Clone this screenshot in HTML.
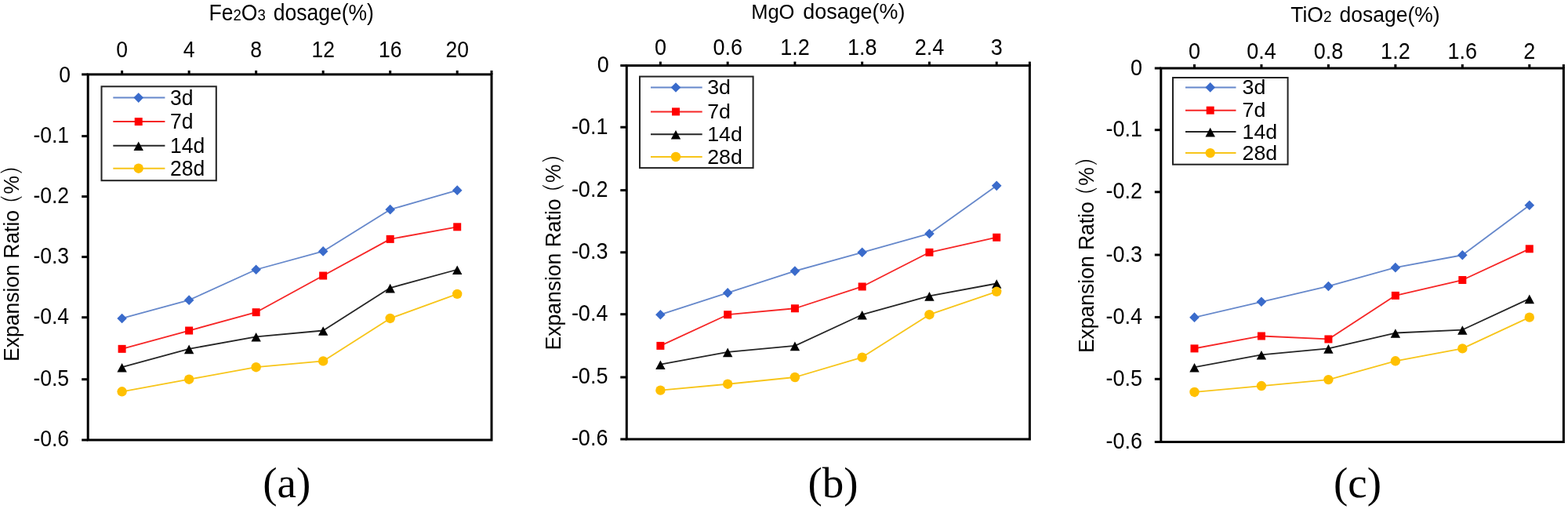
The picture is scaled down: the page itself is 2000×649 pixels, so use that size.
<!DOCTYPE html>
<html><head><meta charset="utf-8"><title>Expansion Ratio vs dosage</title>
<style>
html,body{margin:0;padding:0;background:#fff;}
body{width:2000px;height:649px;overflow:hidden;}
svg{display:block;}
svg text{font-family:'Liberation Sans', Arial, sans-serif;fill:#000;}
</style></head>
<body>
<svg width="2000" height="649" viewBox="0 0 2000 649">
<rect width="2000" height="649" fill="#fff"/>
<rect x="112.2" y="94.9" width="514.8" height="466.1" fill="none" stroke="#000" stroke-width="3"/>
<line x1="104.2" y1="94.9" x2="112.2" y2="94.9" stroke="#000" stroke-width="3"/>
<text transform="translate(90.1 104.9) scale(1 1.1)" font-size="26.5" text-anchor="end">0</text>
<line x1="104.2" y1="173.6" x2="112.2" y2="173.6" stroke="#000" stroke-width="3"/>
<text transform="translate(88.1 181.9) scale(1 1.1)" font-size="26.5" text-anchor="end">-0.1</text>
<line x1="104.2" y1="250.6" x2="112.2" y2="250.6" stroke="#000" stroke-width="3"/>
<text transform="translate(88.1 258.9) scale(1 1.1)" font-size="26.5" text-anchor="end">-0.2</text>
<line x1="104.2" y1="327.6" x2="112.2" y2="327.6" stroke="#000" stroke-width="3"/>
<text transform="translate(88.1 335.9) scale(1 1.1)" font-size="26.5" text-anchor="end">-0.3</text>
<line x1="104.2" y1="404.7" x2="112.2" y2="404.7" stroke="#000" stroke-width="3"/>
<text transform="translate(88.1 413) scale(1 1.1)" font-size="26.5" text-anchor="end">-0.4</text>
<line x1="104.2" y1="483.7" x2="112.2" y2="483.7" stroke="#000" stroke-width="3"/>
<text transform="translate(88.1 492) scale(1 1.1)" font-size="26.5" text-anchor="end">-0.5</text>
<line x1="104.2" y1="561" x2="112.2" y2="561" stroke="#000" stroke-width="3"/>
<text transform="translate(88.1 569.3) scale(1 1.1)" font-size="26.5" text-anchor="end">-0.6</text>
<line x1="627" y1="89.9" x2="627" y2="94.9" stroke="#000" stroke-width="3"/>
<line x1="155.6" y1="89.9" x2="155.6" y2="94.9" stroke="#000" stroke-width="3"/>
<text transform="translate(155.6 72.8) scale(1 1.1)" font-size="26.5" text-anchor="middle">0</text>
<line x1="241.12" y1="89.9" x2="241.12" y2="94.9" stroke="#000" stroke-width="3"/>
<text transform="translate(241.12 72.8) scale(1 1.1)" font-size="26.5" text-anchor="middle">4</text>
<line x1="326.64" y1="89.9" x2="326.64" y2="94.9" stroke="#000" stroke-width="3"/>
<text transform="translate(326.64 72.8) scale(1 1.1)" font-size="26.5" text-anchor="middle">8</text>
<line x1="412.16" y1="89.9" x2="412.16" y2="94.9" stroke="#000" stroke-width="3"/>
<text transform="translate(412.16 72.8) scale(1 1.1)" font-size="26.5" text-anchor="middle">12</text>
<line x1="497.68" y1="89.9" x2="497.68" y2="94.9" stroke="#000" stroke-width="3"/>
<text transform="translate(497.68 72.8) scale(1 1.1)" font-size="26.5" text-anchor="middle">16</text>
<line x1="583.2" y1="89.9" x2="583.2" y2="94.9" stroke="#000" stroke-width="3"/>
<text transform="translate(583.2 72.8) scale(1 1.1)" font-size="26.5" text-anchor="middle">20</text>
<text transform="translate(266.6 25.7) scale(1 1.08)" font-size="26.5"><tspan>Fe</tspan><tspan font-size="18.55">2</tspan><tspan>O</tspan><tspan font-size="18.55">3</tspan><tspan dx="10">dosage(%)</tspan></text>
<text transform="translate(23.5 460.9) rotate(-90) scale(1 1.07)" font-size="26.5">Expansion Ratio<tspan dx="-5.5" style="font-family:&quot;Liberation Sans&quot;, NanumGothic, sans-serif">（</tspan><tspan dx="1.1">%</tspan><tspan dx="1.3" style="font-family:&quot;Liberation Sans&quot;, NanumGothic, sans-serif">）</tspan></text>
<polyline points="155.6,405.97 241.12,382.64 326.64,343.75 412.16,320.42 497.68,267.15 583.2,242.66" fill="none" stroke="#6688CB" stroke-width="1.8" stroke-linejoin="round"/>
<path d="M155.6 399.67L161.9 405.97L155.6 412.27L149.3 405.97Z" fill="#3A6BCB"/>
<path d="M241.12 376.34L247.42 382.64L241.12 388.94L234.82 382.64Z" fill="#3A6BCB"/>
<path d="M326.64 337.45L332.94 343.75L326.64 350.05L320.34 343.75Z" fill="#3A6BCB"/>
<path d="M412.16 314.12L418.46 320.42L412.16 326.72L405.86 320.42Z" fill="#3A6BCB"/>
<path d="M497.68 260.85L503.98 267.15L497.68 273.45L491.38 267.15Z" fill="#3A6BCB"/>
<path d="M583.2 236.36L589.5 242.66L583.2 248.96L576.9 242.66Z" fill="#3A6BCB"/>
<polyline points="155.6,444.85 241.12,421.52 326.64,398.19 412.16,351.53 497.68,304.87 583.2,289.32" fill="none" stroke="#F62626" stroke-width="1.8" stroke-linejoin="round"/>
<rect x="150.6" y="439.85" width="10" height="10" fill="#FF0000"/>
<rect x="236.12" y="416.52" width="10" height="10" fill="#FF0000"/>
<rect x="321.64" y="393.19" width="10" height="10" fill="#FF0000"/>
<rect x="407.16" y="346.53" width="10" height="10" fill="#FF0000"/>
<rect x="492.68" y="299.87" width="10" height="10" fill="#FF0000"/>
<rect x="578.2" y="284.32" width="10" height="10" fill="#FF0000"/>
<polyline points="155.6,468.18 241.12,444.85 326.64,429.3 412.16,421.52 497.68,367.08 583.2,343.75" fill="none" stroke="#262626" stroke-width="1.8" stroke-linejoin="round"/>
<path d="M155.6 462.88L161.8 474.48L149.4 474.48Z" fill="#000000"/>
<path d="M241.12 439.55L247.32 451.15L234.92 451.15Z" fill="#000000"/>
<path d="M326.64 424L332.84 435.6L320.44 435.6Z" fill="#000000"/>
<path d="M412.16 416.22L418.36 427.82L405.96 427.82Z" fill="#000000"/>
<path d="M497.68 361.78L503.88 373.38L491.48 373.38Z" fill="#000000"/>
<path d="M583.2 338.45L589.4 350.05L577 350.05Z" fill="#000000"/>
<polyline points="155.6,499.29 241.12,483.73 326.64,468.18 412.16,460.4 497.68,405.97 583.2,374.86" fill="none" stroke="#F7C51A" stroke-width="1.8" stroke-linejoin="round"/>
<circle cx="155.6" cy="499.29" r="6.2" fill="#FFC000"/>
<circle cx="241.12" cy="483.73" r="6.2" fill="#FFC000"/>
<circle cx="326.64" cy="468.18" r="6.2" fill="#FFC000"/>
<circle cx="412.16" cy="460.4" r="6.2" fill="#FFC000"/>
<circle cx="497.68" cy="405.97" r="6.2" fill="#FFC000"/>
<circle cx="583.2" cy="374.86" r="6.2" fill="#FFC000"/>
<rect x="129.5" y="110.3" width="146.3" height="119.9" fill="#fff" stroke="#222" stroke-width="2"/>
<line x1="144.3" y1="124.6" x2="210.4" y2="124.6" stroke="#6688CB" stroke-width="2"/>
<path d="M176.7 118.3L183 124.6L176.7 130.9L170.4 124.6Z" fill="#3A6BCB"/>
<text transform="translate(217 133.5) scale(1 1.05)" font-size="26.5">3d</text>
<line x1="144.3" y1="155.1" x2="210.4" y2="155.1" stroke="#F62626" stroke-width="2"/>
<rect x="171.7" y="150.1" width="10" height="10" fill="#FF0000"/>
<text transform="translate(217 164) scale(1 1.05)" font-size="26.5">7d</text>
<line x1="144.3" y1="185.8" x2="210.4" y2="185.8" stroke="#262626" stroke-width="2"/>
<path d="M176.7 180.5L182.9 192.1L170.5 192.1Z" fill="#000000"/>
<text transform="translate(217 194.7) scale(1 1.05)" font-size="26.5">14d</text>
<line x1="144.3" y1="214.7" x2="210.4" y2="214.7" stroke="#F7C51A" stroke-width="2"/>
<circle cx="176.7" cy="214.7" r="6.2" fill="#FFC000"/>
<text transform="translate(217 223.6) scale(1 1.05)" font-size="26.5">28d</text>
<text x="365.7" y="633.7" font-size="55" style="font-family:&quot;Liberation Serif&quot;, &quot;Times New Roman&quot;, serif" text-anchor="middle">(a)</text>
<rect x="799.3" y="83.6" width="514.1" height="476.4" fill="none" stroke="#000" stroke-width="3"/>
<line x1="791.3" y1="83.6" x2="799.3" y2="83.6" stroke="#000" stroke-width="3"/>
<text transform="translate(776.8 91.9) scale(1 1.1)" font-size="27" text-anchor="end">0</text>
<line x1="791.3" y1="162.2" x2="799.3" y2="162.2" stroke="#000" stroke-width="3"/>
<text transform="translate(775.4 170.5) scale(1 1.1)" font-size="27" text-anchor="end">-0.1</text>
<line x1="791.3" y1="242.6" x2="799.3" y2="242.6" stroke="#000" stroke-width="3"/>
<text transform="translate(775.4 250.9) scale(1 1.1)" font-size="27" text-anchor="end">-0.2</text>
<line x1="791.3" y1="321.8" x2="799.3" y2="321.8" stroke="#000" stroke-width="3"/>
<text transform="translate(775.4 330.1) scale(1 1.1)" font-size="27" text-anchor="end">-0.3</text>
<line x1="791.3" y1="400.7" x2="799.3" y2="400.7" stroke="#000" stroke-width="3"/>
<text transform="translate(775.4 409) scale(1 1.1)" font-size="27" text-anchor="end">-0.4</text>
<line x1="791.3" y1="481" x2="799.3" y2="481" stroke="#000" stroke-width="3"/>
<text transform="translate(775.4 489.3) scale(1 1.1)" font-size="27" text-anchor="end">-0.5</text>
<line x1="791.3" y1="560" x2="799.3" y2="560" stroke="#000" stroke-width="3"/>
<text transform="translate(775.4 568.3) scale(1 1.1)" font-size="27" text-anchor="end">-0.6</text>
<line x1="1313.4" y1="78.6" x2="1313.4" y2="83.6" stroke="#000" stroke-width="3"/>
<line x1="842.4" y1="78.6" x2="842.4" y2="83.6" stroke="#000" stroke-width="3"/>
<text transform="translate(842.4 69.8) scale(1 1.1)" font-size="27" text-anchor="middle">0</text>
<line x1="928.16" y1="78.6" x2="928.16" y2="83.6" stroke="#000" stroke-width="3"/>
<text transform="translate(928.16 69.8) scale(1 1.1)" font-size="27" text-anchor="middle">0.6</text>
<line x1="1013.92" y1="78.6" x2="1013.92" y2="83.6" stroke="#000" stroke-width="3"/>
<text transform="translate(1013.92 69.8) scale(1 1.1)" font-size="27" text-anchor="middle">1.2</text>
<line x1="1099.68" y1="78.6" x2="1099.68" y2="83.6" stroke="#000" stroke-width="3"/>
<text transform="translate(1099.68 69.8) scale(1 1.1)" font-size="27" text-anchor="middle">1.8</text>
<line x1="1185.44" y1="78.6" x2="1185.44" y2="83.6" stroke="#000" stroke-width="3"/>
<text transform="translate(1185.44 69.8) scale(1 1.1)" font-size="27" text-anchor="middle">2.4</text>
<line x1="1271.2" y1="78.6" x2="1271.2" y2="83.6" stroke="#000" stroke-width="3"/>
<text transform="translate(1271.2 69.8) scale(1 1.1)" font-size="27" text-anchor="middle">3</text>
<text transform="translate(958.2 23.65) scale(1 1.024)" font-size="25.5"><tspan>MgO</tspan><tspan font-size="26.9" dx="10.9">dosage(%)</tspan></text>
<text transform="translate(714.9 446.4) rotate(-90) scale(1 1.07)" font-size="26.5">Expansion Ratio<tspan dx="-5.5" style="font-family:&quot;Liberation Sans&quot;, NanumGothic, sans-serif">（</tspan><tspan dx="1.1">%</tspan><tspan dx="1.3" style="font-family:&quot;Liberation Sans&quot;, NanumGothic, sans-serif">）</tspan></text>
<polyline points="842.4,401.2 928.16,373.41 1013.92,345.62 1099.68,321.8 1185.44,297.98 1271.2,236.84" fill="none" stroke="#6688CB" stroke-width="1.8" stroke-linejoin="round"/>
<path d="M842.4 394.9L848.7 401.2L842.4 407.5L836.1 401.2Z" fill="#3A6BCB"/>
<path d="M928.16 367.11L934.46 373.41L928.16 379.71L921.86 373.41Z" fill="#3A6BCB"/>
<path d="M1013.92 339.32L1020.22 345.62L1013.92 351.92L1007.62 345.62Z" fill="#3A6BCB"/>
<path d="M1099.68 315.5L1105.98 321.8L1099.68 328.1L1093.38 321.8Z" fill="#3A6BCB"/>
<path d="M1185.44 291.68L1191.74 297.98L1185.44 304.28L1179.14 297.98Z" fill="#3A6BCB"/>
<path d="M1271.2 230.54L1277.5 236.84L1271.2 243.14L1264.9 236.84Z" fill="#3A6BCB"/>
<polyline points="842.4,440.9 928.16,401.2 1013.92,393.26 1099.68,365.47 1185.44,321.8 1271.2,302.74" fill="none" stroke="#F62626" stroke-width="1.8" stroke-linejoin="round"/>
<rect x="837.4" y="435.9" width="10" height="10" fill="#FF0000"/>
<rect x="923.16" y="396.2" width="10" height="10" fill="#FF0000"/>
<rect x="1008.92" y="388.26" width="10" height="10" fill="#FF0000"/>
<rect x="1094.68" y="360.47" width="10" height="10" fill="#FF0000"/>
<rect x="1180.44" y="316.8" width="10" height="10" fill="#FF0000"/>
<rect x="1266.2" y="297.74" width="10" height="10" fill="#FF0000"/>
<polyline points="842.4,464.72 928.16,448.84 1013.92,440.9 1099.68,401.2 1185.44,377.38 1271.2,361.5" fill="none" stroke="#262626" stroke-width="1.8" stroke-linejoin="round"/>
<path d="M842.4 459.42L848.6 471.02L836.2 471.02Z" fill="#000000"/>
<path d="M928.16 443.54L934.36 455.14L921.96 455.14Z" fill="#000000"/>
<path d="M1013.92 435.6L1020.12 447.2L1007.72 447.2Z" fill="#000000"/>
<path d="M1099.68 395.9L1105.88 407.5L1093.48 407.5Z" fill="#000000"/>
<path d="M1185.44 372.08L1191.64 383.68L1179.24 383.68Z" fill="#000000"/>
<path d="M1271.2 356.2L1277.4 367.8L1265 367.8Z" fill="#000000"/>
<polyline points="842.4,497.67 928.16,489.73 1013.92,481 1099.68,455.59 1185.44,401.2 1271.2,371.82" fill="none" stroke="#F7C51A" stroke-width="1.8" stroke-linejoin="round"/>
<circle cx="842.4" cy="497.67" r="6.2" fill="#FFC000"/>
<circle cx="928.16" cy="489.73" r="6.2" fill="#FFC000"/>
<circle cx="1013.92" cy="481" r="6.2" fill="#FFC000"/>
<circle cx="1099.68" cy="455.59" r="6.2" fill="#FFC000"/>
<circle cx="1185.44" cy="401.2" r="6.2" fill="#FFC000"/>
<circle cx="1271.2" cy="371.82" r="6.2" fill="#FFC000"/>
<rect x="816" y="97.6" width="144.6" height="116.5" fill="#fff" stroke="#222" stroke-width="2"/>
<line x1="830" y1="111.5" x2="895.7" y2="111.5" stroke="#6688CB" stroke-width="2"/>
<path d="M862 105.2L868.3 111.5L862 117.8L855.7 111.5Z" fill="#3A6BCB"/>
<text transform="translate(902.2 120.1) scale(1.05 1)" font-size="25.5">3d</text>
<line x1="830" y1="142.4" x2="895.7" y2="142.4" stroke="#F62626" stroke-width="2"/>
<rect x="857" y="137.4" width="10" height="10" fill="#FF0000"/>
<text transform="translate(902.2 151) scale(1.05 1)" font-size="25.5">7d</text>
<line x1="830" y1="171.2" x2="895.7" y2="171.2" stroke="#262626" stroke-width="2"/>
<path d="M862 165.9L868.2 177.5L855.8 177.5Z" fill="#000000"/>
<text transform="translate(902.2 179.8) scale(1.05 1)" font-size="25.5">14d</text>
<line x1="830" y1="200" x2="895.7" y2="200" stroke="#F7C51A" stroke-width="2"/>
<circle cx="862" cy="200" r="6.2" fill="#FFC000"/>
<text transform="translate(902.2 208.6) scale(1.05 1)" font-size="25.5">28d</text>
<text x="1062.6" y="633.7" font-size="55" style="font-family:&quot;Liberation Serif&quot;, &quot;Times New Roman&quot;, serif" text-anchor="middle">(b)</text>
<rect x="1480.8" y="87" width="513.6" height="476.5" fill="none" stroke="#000" stroke-width="3"/>
<line x1="1472.8" y1="87" x2="1480.8" y2="87" stroke="#000" stroke-width="3"/>
<text transform="translate(1457 95.5) scale(1 1.1)" font-size="27" text-anchor="end">0</text>
<line x1="1472.8" y1="165.7" x2="1480.8" y2="165.7" stroke="#000" stroke-width="3"/>
<text transform="translate(1457 174.2) scale(1 1.1)" font-size="27" text-anchor="end">-0.1</text>
<line x1="1472.8" y1="244.8" x2="1480.8" y2="244.8" stroke="#000" stroke-width="3"/>
<text transform="translate(1457 253.3) scale(1 1.1)" font-size="27" text-anchor="end">-0.2</text>
<line x1="1472.8" y1="325" x2="1480.8" y2="325" stroke="#000" stroke-width="3"/>
<text transform="translate(1457 333.5) scale(1 1.1)" font-size="27" text-anchor="end">-0.3</text>
<line x1="1472.8" y1="404.4" x2="1480.8" y2="404.4" stroke="#000" stroke-width="3"/>
<text transform="translate(1457 412.9) scale(1 1.1)" font-size="27" text-anchor="end">-0.4</text>
<line x1="1472.8" y1="483.3" x2="1480.8" y2="483.3" stroke="#000" stroke-width="3"/>
<text transform="translate(1457 491.8) scale(1 1.1)" font-size="27" text-anchor="end">-0.5</text>
<line x1="1472.8" y1="563.5" x2="1480.8" y2="563.5" stroke="#000" stroke-width="3"/>
<text transform="translate(1457 572) scale(1 1.1)" font-size="27" text-anchor="end">-0.6</text>
<line x1="1994.4" y1="82" x2="1994.4" y2="87" stroke="#000" stroke-width="3"/>
<line x1="1523.5" y1="82" x2="1523.5" y2="87" stroke="#000" stroke-width="3"/>
<text transform="translate(1523.5 74.7) scale(1 1.1)" font-size="27" text-anchor="middle">0</text>
<line x1="1608.96" y1="82" x2="1608.96" y2="87" stroke="#000" stroke-width="3"/>
<text transform="translate(1608.96 74.7) scale(1 1.1)" font-size="27" text-anchor="middle">0.4</text>
<line x1="1694.42" y1="82" x2="1694.42" y2="87" stroke="#000" stroke-width="3"/>
<text transform="translate(1694.42 74.7) scale(1 1.1)" font-size="27" text-anchor="middle">0.8</text>
<line x1="1779.88" y1="82" x2="1779.88" y2="87" stroke="#000" stroke-width="3"/>
<text transform="translate(1779.88 74.7) scale(1 1.1)" font-size="27" text-anchor="middle">1.2</text>
<line x1="1865.34" y1="82" x2="1865.34" y2="87" stroke="#000" stroke-width="3"/>
<text transform="translate(1865.34 74.7) scale(1 1.1)" font-size="27" text-anchor="middle">1.6</text>
<line x1="1950.8" y1="82" x2="1950.8" y2="87" stroke="#000" stroke-width="3"/>
<text transform="translate(1950.8 74.7) scale(1 1.1)" font-size="27" text-anchor="middle">2</text>
<text transform="translate(1646.2 27.7) scale(1 1.03)" font-size="26.5"><tspan>TiO</tspan><tspan font-size="19.08">2</tspan><tspan dx="10">dosage(%)</tspan></text>
<text transform="translate(1395.3 450.1) rotate(-90) scale(1 1.07)" font-size="26.5">Expansion Ratio<tspan dx="-5.5" style="font-family:&quot;Liberation Sans&quot;, NanumGothic, sans-serif">（</tspan><tspan dx="1.1">%</tspan><tspan dx="1.3" style="font-family:&quot;Liberation Sans&quot;, NanumGothic, sans-serif">）</tspan></text>
<polyline points="1523.5,404.67 1608.96,384.81 1694.42,364.96 1779.88,341.13 1865.34,325.25 1950.8,261.72" fill="none" stroke="#6688CB" stroke-width="1.8" stroke-linejoin="round"/>
<path d="M1523.5 398.37L1529.8 404.67L1523.5 410.97L1517.2 404.67Z" fill="#3A6BCB"/>
<path d="M1608.96 378.51L1615.26 384.81L1608.96 391.11L1602.66 384.81Z" fill="#3A6BCB"/>
<path d="M1694.42 358.66L1700.72 364.96L1694.42 371.26L1688.12 364.96Z" fill="#3A6BCB"/>
<path d="M1779.88 334.83L1786.18 341.13L1779.88 347.43L1773.58 341.13Z" fill="#3A6BCB"/>
<path d="M1865.34 318.95L1871.64 325.25L1865.34 331.55L1859.04 325.25Z" fill="#3A6BCB"/>
<path d="M1950.8 255.42L1957.1 261.72L1950.8 268.02L1944.5 261.72Z" fill="#3A6BCB"/>
<polyline points="1523.5,444.38 1608.96,428.49 1694.42,432.46 1779.88,376.87 1865.34,357.02 1950.8,317.31" fill="none" stroke="#F62626" stroke-width="1.8" stroke-linejoin="round"/>
<rect x="1518.5" y="439.38" width="10" height="10" fill="#FF0000"/>
<rect x="1603.96" y="423.49" width="10" height="10" fill="#FF0000"/>
<rect x="1689.42" y="427.46" width="10" height="10" fill="#FF0000"/>
<rect x="1774.88" y="371.87" width="10" height="10" fill="#FF0000"/>
<rect x="1860.34" y="352.02" width="10" height="10" fill="#FF0000"/>
<rect x="1945.8" y="312.31" width="10" height="10" fill="#FF0000"/>
<polyline points="1523.5,468.2 1608.96,452.32 1694.42,444.38 1779.88,424.52 1865.34,420.55 1950.8,380.84" fill="none" stroke="#262626" stroke-width="1.8" stroke-linejoin="round"/>
<path d="M1523.5 462.9L1529.7 474.5L1517.3 474.5Z" fill="#000000"/>
<path d="M1608.96 447.02L1615.16 458.62L1602.76 458.62Z" fill="#000000"/>
<path d="M1694.42 439.07L1700.62 450.68L1688.22 450.68Z" fill="#000000"/>
<path d="M1779.88 419.22L1786.08 430.82L1773.68 430.82Z" fill="#000000"/>
<path d="M1865.34 415.25L1871.54 426.85L1859.14 426.85Z" fill="#000000"/>
<path d="M1950.8 375.54L1957 387.14L1944.6 387.14Z" fill="#000000"/>
<polyline points="1523.5,499.97 1608.96,492.03 1694.42,484.08 1779.88,460.26 1865.34,444.38 1950.8,404.67" fill="none" stroke="#F7C51A" stroke-width="1.8" stroke-linejoin="round"/>
<circle cx="1523.5" cy="499.97" r="6.2" fill="#FFC000"/>
<circle cx="1608.96" cy="492.03" r="6.2" fill="#FFC000"/>
<circle cx="1694.42" cy="484.08" r="6.2" fill="#FFC000"/>
<circle cx="1779.88" cy="460.26" r="6.2" fill="#FFC000"/>
<circle cx="1865.34" cy="444.38" r="6.2" fill="#FFC000"/>
<circle cx="1950.8" cy="404.67" r="6.2" fill="#FFC000"/>
<rect x="1496" y="99" width="146.6" height="110.7" fill="#fff" stroke="#222" stroke-width="2"/>
<line x1="1512" y1="111.4" x2="1576.5" y2="111.4" stroke="#6688CB" stroke-width="2"/>
<path d="M1543.7 105.1L1550 111.4L1543.7 117.7L1537.4 111.4Z" fill="#3A6BCB"/>
<text transform="translate(1584.5 120) scale(1.05 1)" font-size="25.5">3d</text>
<line x1="1512" y1="140.7" x2="1576.5" y2="140.7" stroke="#F62626" stroke-width="2"/>
<rect x="1538.7" y="135.7" width="10" height="10" fill="#FF0000"/>
<text transform="translate(1584.5 149.3) scale(1.05 1)" font-size="25.5">7d</text>
<line x1="1512" y1="168.1" x2="1576.5" y2="168.1" stroke="#262626" stroke-width="2"/>
<path d="M1543.7 162.8L1549.9 174.4L1537.5 174.4Z" fill="#000000"/>
<text transform="translate(1584.5 176.7) scale(1.05 1)" font-size="25.5">14d</text>
<line x1="1512" y1="195.1" x2="1576.5" y2="195.1" stroke="#F7C51A" stroke-width="2"/>
<circle cx="1543.7" cy="195.1" r="6.2" fill="#FFC000"/>
<text transform="translate(1584.5 203.7) scale(1.05 1)" font-size="25.5">28d</text>
<text x="1731.5" y="633.7" font-size="55" style="font-family:&quot;Liberation Serif&quot;, &quot;Times New Roman&quot;, serif" text-anchor="middle">(c)</text>
</svg>
</body></html>
